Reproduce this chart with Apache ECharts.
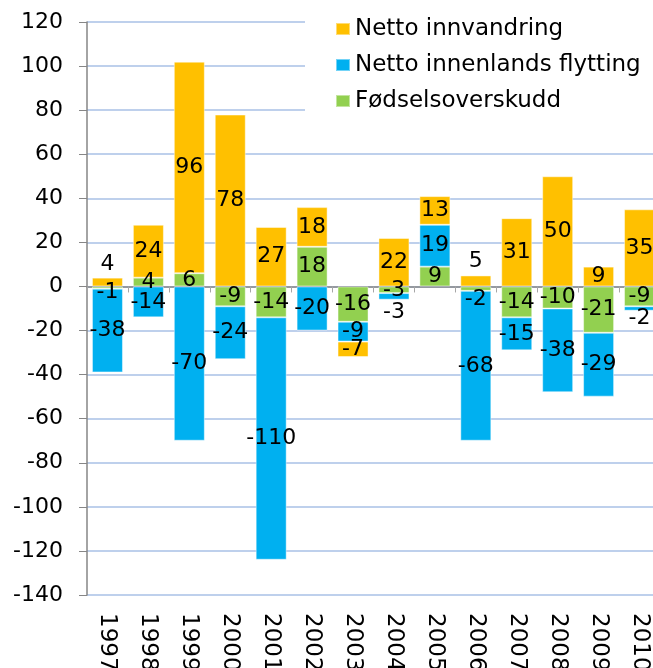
<!DOCTYPE html>
<html>
<head>
<meta charset="utf-8">
<style>
  html, body { margin: 0; padding: 0; background: #fff; }
  #chart { width: 653px; height: 668px; }
</style>
<script src="https://cdn.jsdelivr.net/npm/echarts@6/dist/echarts.min.js"></script>
</head>
<body>
<div id="chart"></div>
<script>
// data
var years = ["1997", "1998", "1999", "2000", "2001", "2002", "2003",
  "2004", "2005", "2006", "2007", "2008", "2009", "2010"];
var innvandring = [4, 24, 96, 78, 27, 18, -7, 22, 13, 5, 31, 50, 9, 35];
var innenlands = [-38, -14, -70, -24, -110, -20, -9, -3, 19, -68, -15, -38, -29, -2];
var fodsel = [-1, 4, 6, -9, -14, 18, -16, -3, 9, -2, -14, -10, -21, -9];
var seriesNames = ["Netto innvandring", "Netto innenlands flytting", "Fødselsoverskudd"];
var yMin = -140, yMax = 120, yStep = 20;

var FONT = "DejaVu Sans";
var colors = {
  innv: "#FFC000",
  innenl: "#00B0F0",
  fodsel: "#92D050",
};

// a few labels sit outside / off-centre in the original
var labelTweaks = {
  innv: { 0: { position: "top", distance: 2 }, 9: { position: "top", distance: 3 } },
  innenl: { 7: { position: "bottom", distance: 2 }, 13: { offset: [0, 10] } },
  fodsel: { 0: { offset: [0, 5] }, 7: { offset: [0, 1] }, 9: { offset: [0, 11] } },
};

function buildData(values, key) {
  var tweaks = labelTweaks[key] || {};
  return values.map(function (v, i) {
    if (tweaks[i]) {
      return { value: v, label: tweaks[i] };
    }
    return v;
  });
}

function barSeries(name, values, key) {
  return {
    name: name,
    type: "bar",
    stack: "total",
    barWidth: 31,
    data: buildData(values, key),
    itemStyle: {
      color: colors[key],
      borderColor: "rgba(255,255,255,0.45)",
      borderWidth: 1,
    },
    label: {
      show: true,
      position: "inside",
      color: "#000",
      fontFamily: FONT,
      fontSize: 22,
    },
    animation: false,
  };
}

var chart = echarts.init(document.getElementById("chart"), null, { renderer: "canvas" });

chart.setOption({
  backgroundColor: "#fff",
  animation: false,
  grid: {
    left: 87,
    width: 573, // plot runs past the right edge, like the original
    top: 22,
    bottom: 73,
    containLabel: false,
    outerBoundsMode: "none",
  },
  legend: {
    data: seriesNames,
    orient: "vertical",
    left: 305,
    top: 0,
    padding: [17, 20, 10, 30],
    backgroundColor: "#fff",
    itemWidth: 14,
    itemHeight: 12,
    itemGap: 12,
    icon: "rect",
    textStyle: {
      fontFamily: FONT,
      fontSize: 23,
      lineHeight: 24,
      color: "#000",
    },
  },
  xAxis: [
    {
      // zero line with boundary ticks
      type: "category",
      data: years,
      position: "bottom",
      axisLine: { onZero: true, lineStyle: { color: "#868686", width: 1.5 } },
      axisTick: { show: true, length: 6, lineStyle: { color: "#A6A6A6" } },
      axisLabel: { show: false },
      splitLine: { show: false },
    },
    {
      // year labels at the bottom
      type: "category",
      data: years,
      position: "bottom",
      axisLine: { show: false, onZero: false },
      axisTick: { show: false },
      splitLine: { show: false },
      axisLabel: {
        rotate: -90,
        margin: 18,
        color: "#000",
        fontFamily: FONT,
        fontSize: 23,
      },
    },
  ],
  yAxis: {
    type: "value",
    min: yMin,
    max: yMax,
    interval: yStep,
    axisLine: { show: true, lineStyle: { color: "#868686", width: 1.5 } },
    axisTick: { show: true, length: 8, lineStyle: { color: "#868686" } },
    axisLabel: {
      margin: 24,
      color: "#000",
      fontFamily: FONT,
      fontSize: 22,
    },
    splitLine: { show: true, lineStyle: { color: "rgb(190,208,236)", width: 2, type: "solid" } },
  },
  series: [
    barSeries(seriesNames[2], fodsel, "fodsel"),
    barSeries(seriesNames[1], innenlands, "innenl"),
    barSeries(seriesNames[0], innvandring, "innv"),
  ],
});
</script>
</body>
</html>
